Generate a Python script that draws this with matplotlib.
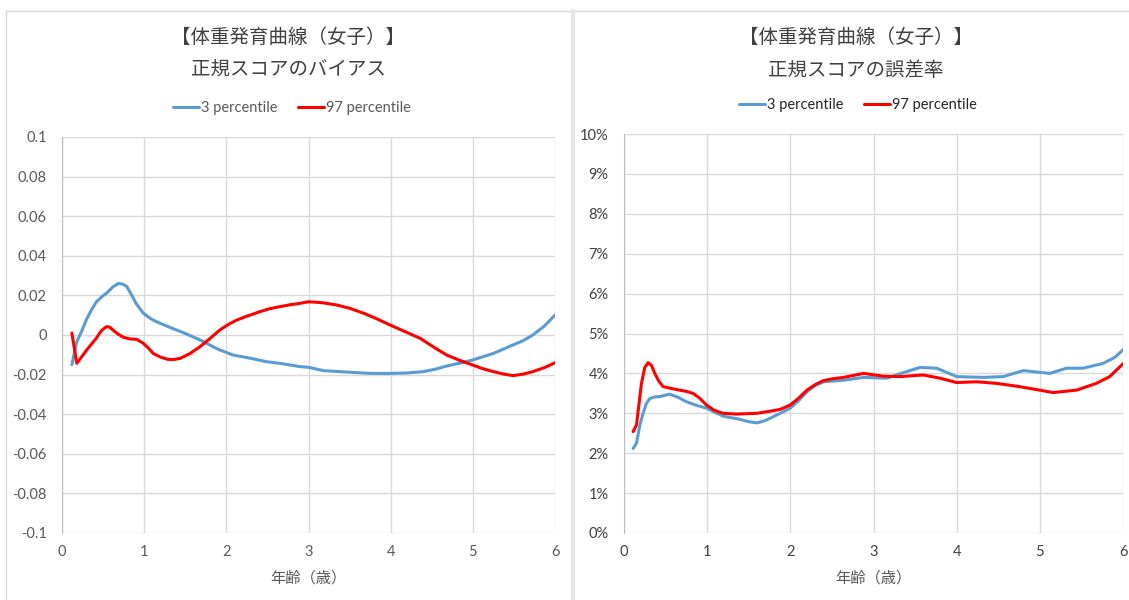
import matplotlib
matplotlib.use('Agg')
import matplotlib.pyplot as plt
from matplotlib.lines import Line2D
from matplotlib.ticker import PercentFormatter, MultipleLocator

plt.rcParams['font.family'] = ['Lato', 'Noto Sans CJK JP', 'DejaVu Sans']

# ---- bias of the normal score (left) ----
bias_p3_age = [0.12, 0.18, 0.24, 0.30, 0.36, 0.42, 0.49, 0.55, 0.62, 0.685, 0.74, 0.79,
               0.85, 0.90, 0.99, 1.07, 1.15, 1.31, 1.50, 1.68, 1.90, 2.08, 2.30, 2.49,
               2.65, 2.90, 3.00, 3.18, 3.50, 3.75, 3.99, 4.20, 4.40, 4.55, 4.68, 4.84,
               5.00, 5.25, 5.49, 5.62, 5.73, 5.87, 6.00]
bias_p3 = [-0.015, -0.0034, 0.002, 0.008, 0.0128, 0.0168, 0.0195, 0.0214, 0.0243, 0.026,
           0.0257, 0.0244, 0.020, 0.016, 0.011, 0.0085, 0.0067, 0.0039, 0.0008, -0.0025,
           -0.0072, -0.0101, -0.0118, -0.0135, -0.0143, -0.016, -0.0163, -0.018, -0.0188,
           -0.0194, -0.0194, -0.0192, -0.0185, -0.0172, -0.0157, -0.0142, -0.0126, -0.0093,
           -0.005, -0.0027, 0.0, 0.0045, 0.0101]

bias_p97_age = [0.12, 0.18, 0.24, 0.30, 0.42, 0.48, 0.54, 0.58, 0.62, 0.68, 0.75, 0.83,
                0.91, 0.99, 1.05, 1.11, 1.20, 1.29, 1.36, 1.44, 1.56, 1.68, 1.80, 1.92,
                2.02, 2.13, 2.25, 2.41, 2.52, 2.65, 2.78, 2.90, 3.00, 3.17, 3.34, 3.50,
                3.67, 3.83, 3.99, 4.17, 4.36, 4.52, 4.68, 4.84, 5.00, 5.12, 5.25, 5.37,
                5.49, 5.61, 5.73, 5.87, 6.00]
bias_p97 = [0.001, -0.0143, -0.011, -0.0076, -0.0015, 0.0022, 0.0042, 0.0040, 0.0025,
            0.0005, -0.0012, -0.002, -0.0022, -0.0042, -0.0065, -0.0093, -0.0112, -0.0123,
            -0.0124, -0.0118, -0.0093, -0.0059, -0.0018, 0.0025, 0.0052, 0.0076, 0.0095,
            0.0118, 0.0132, 0.0143, 0.0153, 0.016, 0.0168, 0.0163, 0.0152, 0.0135, 0.011,
            0.0082, 0.0051, 0.0018, -0.0017, -0.006, -0.0101, -0.0128, -0.0152, -0.017,
            -0.0185, -0.0197, -0.0205, -0.0198, -0.0185, -0.0165, -0.014]

# ---- error rate of the normal score, in % (right) ----
err_p3_age = [0.11, 0.15, 0.19, 0.23, 0.27, 0.31, 0.37, 0.43, 0.55, 0.65, 0.75, 0.87,
              0.99, 1.19, 1.39, 1.50, 1.60, 1.70, 1.84, 2.00, 2.10, 2.20, 2.30, 2.40,
              2.64, 2.88, 3.16, 3.36, 3.56, 3.76, 4.00, 4.32, 4.56, 4.80, 5.12, 5.32,
              5.52, 5.76, 5.90, 6.00]
err_p3 = [2.12, 2.25, 2.7, 3.0, 3.25, 3.37, 3.41, 3.42, 3.48, 3.4, 3.29, 3.2, 3.13, 2.93,
          2.85, 2.79, 2.76, 2.82, 2.96, 3.13, 3.32, 3.54, 3.7, 3.79, 3.83, 3.90, 3.88,
          4.02, 4.15, 4.13, 3.92, 3.90, 3.92, 4.07, 4.00, 4.13, 4.13, 4.25, 4.4, 4.59]

err_p97_age = [0.11, 0.15, 0.21, 0.25, 0.29, 0.33, 0.37, 0.42, 0.47, 0.55, 0.67, 0.75,
               0.83, 0.91, 0.99, 1.08, 1.19, 1.35, 1.60, 1.75, 1.88, 2.00, 2.10, 2.20,
               2.30, 2.40, 2.52, 2.64, 2.88, 3.12, 3.32, 3.60, 3.80, 4.00, 4.24, 4.48,
               4.72, 5.00, 5.16, 5.44, 5.68, 5.84, 6.00]
err_p97 = [2.54, 2.71, 3.75, 4.15, 4.27, 4.2, 4.0, 3.8, 3.67, 3.63, 3.58, 3.55, 3.50, 3.38,
           3.21, 3.08, 3.0, 2.98, 3.0, 3.05, 3.1, 3.21, 3.38, 3.58, 3.72, 3.82, 3.87, 3.90,
           4.0, 3.93, 3.92, 3.96, 3.88, 3.77, 3.79, 3.75, 3.68, 3.58, 3.52, 3.58, 3.75,
           3.92, 4.24]

BLUE = '#5b9bd5'
RED = '#ff0000'
GRID = '#d9d9d9'

W, H = 1129, 600
fig = plt.figure(figsize=(W / 100, H / 100), dpi=100)


def fx(px):
    return px / W


def fy(py):
    return 1 - py / H


def setup_axes(ax, label_color):
    for side in ['top', 'right', 'bottom']:
        ax.spines[side].set_visible(False)
    ax.spines['left'].set_color('#bfbfbf')
    ax.grid(True, color=GRID, linewidth=1)
    ax.set_axisbelow(True)
    ax.set_xlim(0, 6)
    ax.xaxis.set_major_locator(MultipleLocator(1))
    ax.tick_params(length=0, labelsize=10.5, labelcolor=label_color)
    ax.tick_params(axis='x', pad=9)
    ax.tick_params(axis='y', pad=11)
    ax.set_xlabel('年齢（歳）', fontsize=11, color='#595959', labelpad=8)


def header(cx, subtitle, color):
    fig.text(fx(cx), fy(37), '【体重発育曲線（女子）】', ha='center', va='center',
             fontsize=14, color=color, family=['Noto Sans CJK JP'])
    fig.text(fx(cx), fy(70), subtitle, ha='center', va='center',
             fontsize=14, color=color, family=['Noto Sans CJK JP'])


line_kw = dict(lw=2.2, solid_joinstyle='round', solid_capstyle='round')

# left chart
ax1 = fig.add_axes([fx(62), fy(533), fx(555) - fx(62), fy(137) - fy(533)])
l1, = ax1.plot(bias_p3_age, bias_p3, color=BLUE, label='3 percentile', **line_kw)
l2, = ax1.plot(bias_p97_age, bias_p97, color=RED, label='97 percentile', **line_kw)
ax1.set_ylim(-0.1, 0.1)
ax1.yaxis.set_major_locator(MultipleLocator(0.02))
ax1.yaxis.set_major_formatter(plt.FuncFormatter(lambda v, p: '0' if abs(v) < 1e-9 else f'{v:g}'))
setup_axes(ax1, '#595959')
header(288, '正規スコアのバイアス', '#404040')
ax1.legend(handles=[l1, l2], loc='center', bbox_to_anchor=(fx(292), fy(108)),
           bbox_transform=fig.transFigure, ncol=2, frameon=False, fontsize=10.5,
           handlelength=1.8, handletextpad=0.15, columnspacing=1.4, labelcolor='#595959')

# right chart
ax2 = fig.add_axes([fx(624), fy(533), fx(1123) - fx(624), fy(134) - fy(533)])
r1, = ax2.plot(err_p3_age, err_p3, color=BLUE, label='3 percentile', **line_kw)
r2, = ax2.plot(err_p97_age, err_p97, color=RED, label='97 percentile', **line_kw)
ax2.set_ylim(0, 10)
ax2.yaxis.set_major_locator(MultipleLocator(1))
ax2.yaxis.set_major_formatter(PercentFormatter(xmax=100, decimals=0))
setup_axes(ax2, '#404040')
header(856, '正規スコアの誤差率', '#404040')
ax2.legend(handles=[r1, r2], loc='center', bbox_to_anchor=(fx(858), fy(105)),
           bbox_transform=fig.transFigure, ncol=2, frameon=False, fontsize=10.5,
           handlelength=1.8, handletextpad=0.15, columnspacing=1.4, labelcolor='#262626')

# chart area frames
fig.add_artist(Line2D([fx(6), 1], [fy(11), fy(11)], color='#d9d9d9', lw=1))
fig.add_artist(Line2D([fx(6), fx(6)], [fy(11), 0], color='#d9d9d9', lw=1))
fig.add_artist(Line2D([fx(573), fx(573)], [fy(11), 0], color='#e6e6e6', lw=3))

fig.savefig('out.png', dpi=100)
